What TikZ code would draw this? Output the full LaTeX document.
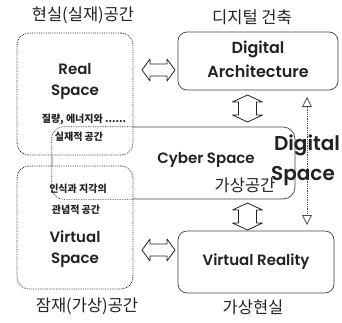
\documentclass[tikz,border=0pt]{standalone}
\usepackage{fontspec}
\setmainfont{Poppins}[BoldFont={Poppins SemiBold}]
\newfontfamily\kr{Noto Sans CJK KR}
\usetikzlibrary{arrows.meta}
\definecolor{ink}{HTML}{222222}
\tikzset{
  lbox/.style={draw=ink, densely dotted, line width=0.8pt, rounded corners=12pt, fill=white},
  rbox/.style={draw=ink!85, line width=0.7pt, rounded corners=9pt},
  en/.style={font=\fontsize{15}{18}\selectfont\bfseries, text=ink, inner sep=0pt},
  enda/.style={font=\fontsize{16}{19}\selectfont\bfseries, text=ink, inner sep=0pt},
  enbig/.style={font=\fontsize{20}{23}\selectfont\bfseries, text=ink, inner sep=0pt},
  kl/.style={font=\kr\fontsize{16.5}{19}\selectfont, text=ink, inner sep=0pt},
  ks/.style={font=\kr\fontsize{10}{12}\selectfont\bfseries, text=ink, inner sep=0pt},
  hollow/.style={draw=ink, line width=0.8pt, fill=white, line join=round},
}
\begin{document}
\begin{tikzpicture}[x=1pt,y=-1pt]
\useasboundingbox (0,0) rectangle (342,322);
% cyber box (behind)
\node[rbox, rounded corners=12pt, minimum width=243pt, minimum height=72pt, inner sep=0pt] (cyber) at (173.5,163) {};
% left boxes
\node[lbox, minimum width=116pt, minimum height=122pt, inner sep=0pt] (real) at (75,94) {};
\node[lbox, minimum width=116pt, minimum height=123pt, inner sep=0pt] (virt) at (75,227.5) {};
\begin{scope}
\clip[rounded corners=12pt] (real.north west) rectangle (real.south east);
\draw[densely dotted, ink, line width=0.7pt, rounded corners=12pt] (cyber.north west) rectangle (cyber.south east);
\end{scope}
\begin{scope}
\clip[rounded corners=12pt] (virt.north west) rectangle (virt.south east);
\draw[densely dotted, ink, line width=0.7pt, rounded corners=12pt] (cyber.north west) rectangle (cyber.south east);
\end{scope}
% right boxes
\node[rbox, minimum width=160pt, minimum height=58pt, inner sep=0pt] (da) at (258,61) {};
\node[rbox, minimum width=156pt, minimum height=62pt, inner sep=0pt] (vr) at (256,262) {};
% dotted vertical double arrow
\coordinate (dtop) at (307,97);
\coordinate (dbot) at (307,225);
\draw[ink!80, densely dotted, line width=0.8pt, {Triangle[open, length=10pt, width=10pt]}-{Triangle[open, length=10pt, width=10pt]}] (dtop) -- (dbot);
% hollow double arrows (horizontal)
\foreach \cy in {70,250}{
  \draw[hollow] (142,\cy) -- (150,\cy-11) -- (150,\cy-6) -- (167,\cy-6) -- (167,\cy-11) -- (175,\cy) -- (167,\cy+11) -- (167,\cy+6) -- (150,\cy+6) -- (150,\cy+11) -- cycle;
}
% hollow double arrows (vertical)
\foreach \cy/\h in {108.5/13.5, 216.5/13.5}{
  \draw[hollow] (247.5,\cy-\h) -- (262.5,\cy-\h+7) -- (256.5,\cy-\h+7) -- (256.5,\cy+\h-7) -- (262.5,\cy+\h-7) -- (247.5,\cy+\h) -- (232.5,\cy+\h-7) -- (238.5,\cy+\h-7) -- (238.5,\cy-\h+7) -- (232.5,\cy-\h+7) -- cycle;
}
% texts
\node[kl] (lreal) at (83,15) {현실(실재)공간};
\node[kl] (lda) at (252,17) {디지털 건축};
\node[kl] (lvirt) at (87,306) {잠재(가상)공간};
\node[kl] (lvr) at (253,307) {가상현실};
\node[kl] (lcy) at (245,185) {가상공간};
\node[en] (treal) at (75,69) {Real};
\node[en] (treal2) at (75,92) {Space};
\node[ks] (sreal) at (84,119) {질량, 에너지와 ......};
\node[ks] (sreal2) at (79,137) {실재적 공간};
\node[ks] (svirt) at (78,189) {인식과 지각의};
\node[ks] (svirt2) at (76,210) {관념적 공간};
\node[en] (tvirt) at (75,237) {Virtual};
\node[en] (tvirt2) at (75,260) {Space};
\node[enda] (tda) at (258,49) {Digital};
\node[enda] (tda2) at (258,71) {Architecture};
\node[en] (tcy) at (206,160) {Cyber Space};
\node[en] (tvr) at (256,262) {Virtual Reality};
\node[enbig] (tds) at (307,145) {Digital};
\node[enbig] (tds2) at (303,176) {Space};
\end{tikzpicture}
\end{document}
